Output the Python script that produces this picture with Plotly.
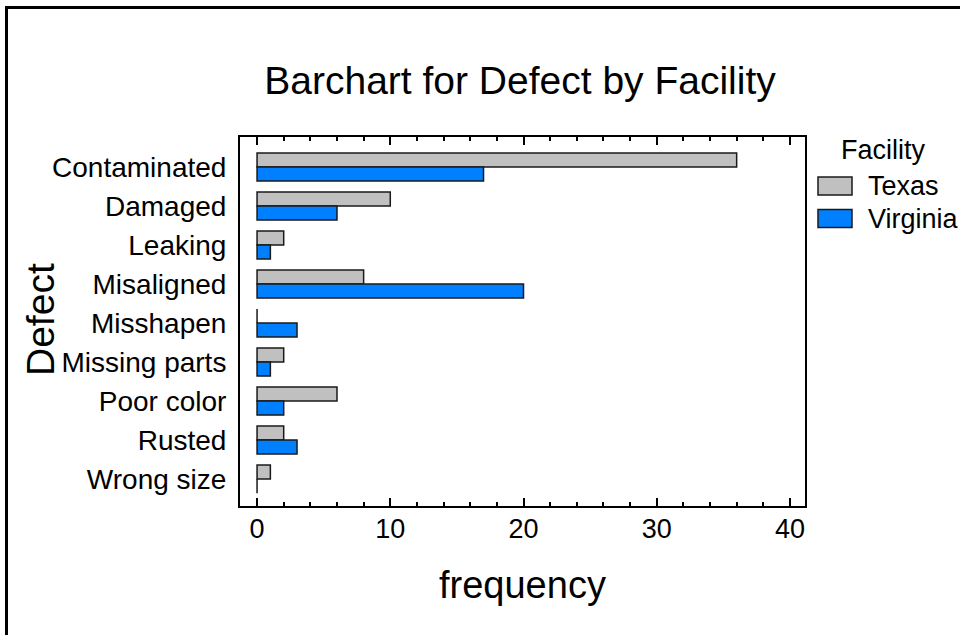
import plotly.graph_objects as go

categories = ["Contaminated", "Damaged", "Leaking", "Misaligned", "Misshapen",
              "Missing parts", "Poor color", "Rusted", "Wrong size"]
texas = [36, 10, 2, 8, 0, 2, 6, 2, 1]
virginia = [17, 6, 1, 20, 3, 1, 2, 3, 0]
series_names = ["Texas", "Virginia"]
series_colors = ["#C0C0C0", "#0080FF"]
x_ticks = [0, 10, 20, 30, 40]

FONT = "Liberation Sans, Arial, sans-serif"

# plot-area pixel geometry
L, R, T, B = 240, 805, 137, 506
W, H = 960, 635


def px(x):
    return (x - L) / (R - L)


def py(y):
    return (B - y) / (B - T)


fig = go.Figure()
for name, vals, col in zip(series_names, [texas, virginia], series_colors):
    fig.add_trace(go.Bar(
        y=categories, x=vals, name=name, orientation="h",
        marker=dict(color=col, line=dict(color="#1a1a1a", width=1.5)),
        showlegend=False,
    ))

shapes = [
    # outer frame
    dict(type="rect", xref="paper", yref="paper",
         x0=px(6.5), x1=px(990), y0=py(7.5), y1=py(680),
         line=dict(color="black", width=3), fillcolor="rgba(0,0,0,0)", layer="above"),
]
annotations = []

# custom legend
annotations.append(dict(text="Facility", xref="paper", yref="paper",
                        x=px(883), y=py(150), xanchor="center", yanchor="middle",
                        showarrow=False, font=dict(size=27, color="black", family=FONT)))
for i, (name, col) in enumerate(zip(series_names, series_colors)):
    cy = 186 + i * 32.5
    shapes.append(dict(type="rect", xref="paper", yref="paper",
                       x0=px(818), x1=px(852), y0=py(cy - 9), y1=py(cy + 9),
                       fillcolor=col, line=dict(color="#1a1a1a", width=1.5)))
    annotations.append(dict(text=name, xref="paper", yref="paper",
                            x=px(866), y=py(cy), xanchor="left", yanchor="middle",
                            showarrow=False, font=dict(size=27, color="black", family=FONT)))

# axis titles
annotations.append(dict(text="frequency", xref="paper", yref="paper",
                        x=px(522), y=py(585), xanchor="center", yanchor="middle",
                        showarrow=False, font=dict(size=38, color="black", family=FONT)))
annotations.append(dict(text="Defect", xref="paper", yref="paper",
                        x=px(40), y=py(320), xanchor="center", yanchor="middle",
                        textangle=-90,
                        showarrow=False, font=dict(size=39, color="black", family=FONT)))

fig.update_layout(
    width=W, height=H,
    margin=dict(l=L, r=W - R, t=T, b=H - B, pad=0),
    paper_bgcolor="white", plot_bgcolor="white",
    font=dict(family=FONT, color="black"),
    barmode="group", bargap=0.28, bargroupgap=0,
    title=dict(text="Barchart for Defect by Facility", x=px(520), xref="paper",
               y=1 - 80 / H, yanchor="middle", xanchor="center",
               font=dict(size=39, color="black", family=FONT)),
    shapes=shapes, annotations=annotations,
    xaxis=dict(range=[-1.28, 41.13], tickvals=x_ticks, ticks="inside", ticklen=8,
               tickwidth=2, tickcolor="black",
               minor=dict(dtick=2, ticks="inside", ticklen=4, tickwidth=2, tickcolor="black"),
               showline=True, linecolor="black", linewidth=2, mirror="ticks",
               showgrid=False, zeroline=False, ticklabelstandoff=-2,
               tickfont=dict(size=27, color="black", family=FONT)),
    yaxis=dict(type="category", categoryorder="array", categoryarray=categories,
               range=[8.69, -0.77], ticks="", showline=True, linecolor="black",
               linewidth=2, mirror=True, showgrid=False, zeroline=False,
               ticklabelstandoff=6,
               tickfont=dict(size=28, color="black", family=FONT)),
)

fig.write_html("out.html", config={"displayModeBar": False},
               post_script="document.body.style.margin='0px';")
